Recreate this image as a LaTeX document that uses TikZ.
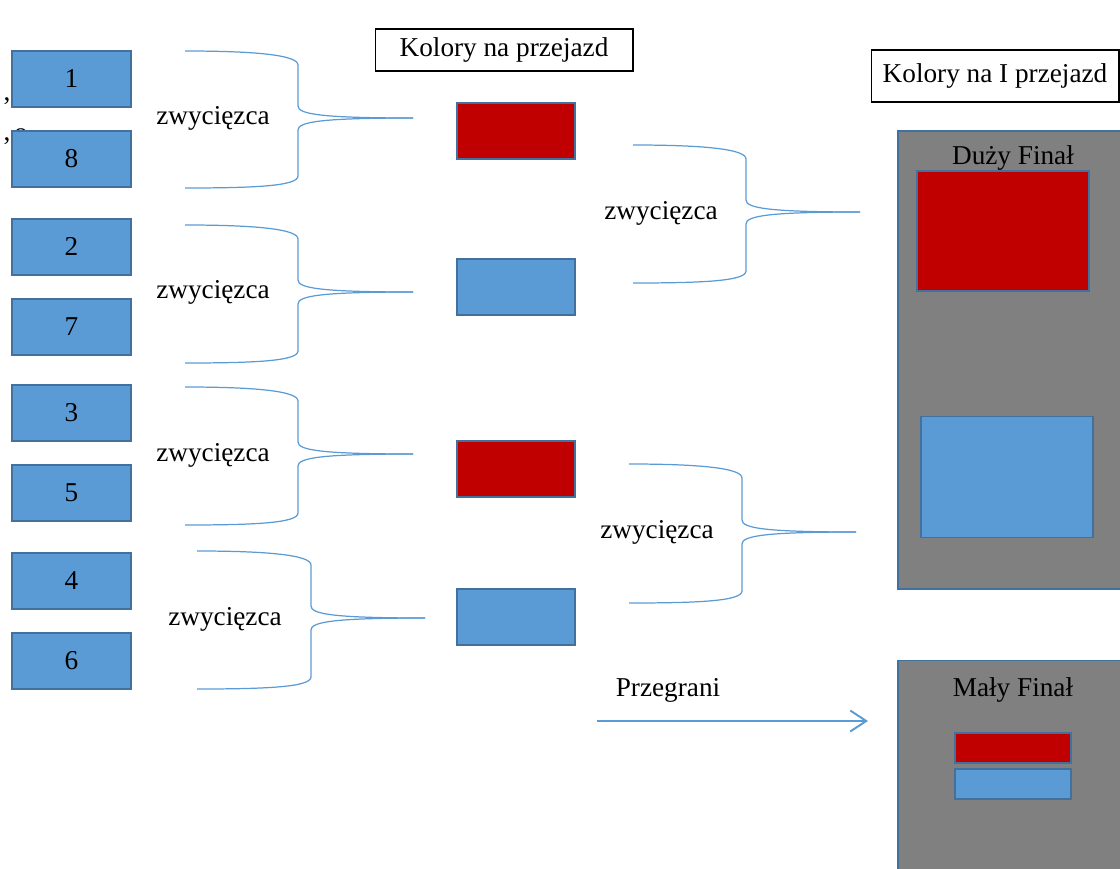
\documentclass[tikz,border=0pt]{standalone}
\usepackage{fontspec}
\setmainfont{Liberation Serif}
\usetikzlibrary{positioning,arrows.meta}
\definecolor{boxblue}{HTML}{5B9BD5}
\definecolor{edgeblue}{HTML}{41719C}
\definecolor{boxred}{HTML}{C00000}
\definecolor{finalgray}{HTML}{808080}
\begin{document}
\begin{tikzpicture} [
      x=0.02cm, y=-0.02cm,
      font=\fontsize{15.5}{18}\selectfont,
      seed/.style={draw=edgeblue, fill=boxblue, line width=1.1pt, rectangle, minimum width=2.38cm, minimum height=1.12cm, inner sep=0pt},
      pick/.style={draw=edgeblue, line width=1.1pt, rectangle, minimum width=2.36cm, minimum height=1.12cm, inner sep=0pt},
      title/.style={draw, rectangle, line width=0.6pt, inner sep=0pt},
      final/.style={draw=edgeblue, fill=finalgray, line width=1.1pt, rectangle, minimum width=4.64cm, inner sep=0pt},
      brace/.style={draw=boxblue, line width=0.7pt}
   ]
    \useasboundingbox (0,0) rectangle (1120,869);

    % stray marks on the left
    \node[anchor=base, inner sep=0pt] (mk1) at (7,100) {,};
    \node[anchor=base, inner sep=0pt] (mk2) at (21,141) {o};
    \node[anchor=base, inner sep=0pt] (mk3) at (7,140) {,};

    % pairs
    \node[seed] (s1) at (71.5,79) {1};
    \node[seed, below of=s1, node distance=1.6cm] (s8) {8};
    \node[seed, below of=s8, node distance=1.76cm] (s2) {2};
    \node[seed, below of=s2, node distance=1.6cm] (s7) {7};
    \node[seed, below of=s7, node distance=1.72cm] (s3) {3};
    \node[seed, below of=s3, node distance=1.6cm] (s5) {5};
    \node[seed, below of=s5, node distance=1.76cm] (s4) {4};
    \node[seed, below of=s4, node distance=1.6cm] (s6) {6};

    % first round
    \node[title, minimum width=5.16cm, minimum height=0.84cm] (ttl1) at (504,50) {Kolory na przejazd};
    \node[pick, fill=boxred] (r1) at (516,131) {};
    \node[pick, fill=boxblue, below of=r1, node distance=3.12cm] (r2) {};
    \node[pick, fill=boxred, below of=r2, node distance=3.64cm] (r3) {};
    \node[pick, fill=boxblue, below of=r3, node distance=2.96cm] (r4) {};

    \coordinate (a1) at (185,51);  \coordinate (b1) at (185,188); \coordinate (w1) at (413,118);
    \coordinate (a2) at (185,225); \coordinate (b2) at (185,363); \coordinate (w2) at (413,292);
    \coordinate (a3) at (185,387); \coordinate (b3) at (185,525); \coordinate (w3) at (413,454);
    \coordinate (a4) at (197,551); \coordinate (b4) at (197,689); \coordinate (w4) at (425,618);

    \draw[brace] (a1) .. controls (255,51) and (298,55) .. (298,65) -- (298,106)
      .. controls (298,114) and (320,118) .. (w1);
    \draw[brace] (w1) .. controls (320,118) and (298,122) .. (298,130) -- (298,176)
      .. controls (298,186) and (255,188) .. (b1);
    \node (z1) at (213,118) {zwycięzca};

    \draw[brace] (a2) .. controls (255,225) and (298,229) .. (298,239) -- (298,280)
      .. controls (298,288) and (320,292) .. (w2);
    \draw[brace] (w2) .. controls (320,292) and (298,296) .. (298,304) -- (298,351)
      .. controls (298,361) and (255,363) .. (b2);
    \node (z2) at (213,292) {zwycięzca};

    \draw[brace] (a3) .. controls (255,387) and (298,391) .. (298,401) -- (298,442)
      .. controls (298,450) and (320,454) .. (w3);
    \draw[brace] (w3) .. controls (320,454) and (298,458) .. (298,466) -- (298,513)
      .. controls (298,523) and (255,525) .. (b3);
    \node (z3) at (213,455) {zwycięzca};

    \draw[brace] (a4) .. controls (267,551) and (311,555) .. (311,565) -- (311,606)
      .. controls (311,614) and (333,618) .. (w4);
    \draw[brace] (w4) .. controls (333,618) and (311,622) .. (311,630) -- (311,677)
      .. controls (311,687) and (267,689) .. (b4);
    \node (z4) at (225,619) {zwycięzca};

    % second round
    \coordinate (a5) at (633,145); \coordinate (b5) at (633,283); \coordinate (w5) at (860,212);
    \coordinate (a6) at (629,464); \coordinate (b6) at (629,603); \coordinate (w6) at (856,532);

    \draw[brace] (a5) .. controls (703,145) and (746,149) .. (746,159) -- (746,200)
      .. controls (746,208) and (768,212) .. (w5);
    \draw[brace] (w5) .. controls (768,212) and (746,216) .. (746,224) -- (746,271)
      .. controls (746,281) and (703,283) .. (b5);
    \node (z5) at (661,213) {zwycięzca};

    \draw[brace] (a6) .. controls (699,464) and (742,468) .. (742,478) -- (742,520)
      .. controls (742,528) and (764,532) .. (w6);
    \draw[brace] (w6) .. controls (764,532) and (742,536) .. (742,544) -- (742,591)
      .. controls (742,601) and (699,603) .. (b6);
    \node (z6) at (657,532) {zwycięzca};

    % finals
    \node[title, minimum width=4.96cm, minimum height=1.04cm] (ttl2) at (995,76) {Kolory na I przejazd};
    \node[final, minimum height=9.16cm] (big) at (1014,360) {};
    \node (bigLbl) at (1013,158) {Duży Finał};
    \node[pick, fill=boxred, minimum width=3.44cm, minimum height=2.4cm] (f1) at (1003,231) {};
    \node[pick, fill=boxblue, minimum width=3.44cm, minimum height=2.42cm] (f2) at (1007,477) {};

    \node[final, minimum height=4.38cm] (small) at (1014,770) {};
    \node (smallLbl) at (1013,690) {Mały Finał};
    \node[pick, fill=boxred, minimum width=2.32cm, minimum height=0.6cm] (m1) at (1013,748) {};
    \node[pick, fill=boxblue, below of=m1, node distance=0.72cm, minimum width=2.32cm, minimum height=0.6cm] (m2) {};

    \coordinate (lsStart) at (597,721);
    \coordinate (lsEnd) at (868,721);
    \draw[boxblue, line width=1.1pt, -{Straight Barb[length=0.32cm, width=0.42cm]}] (lsStart) -- (lsEnd);
    \node (lose) at (668,690) {Przegrani};

  \end{tikzpicture}
\end{document}
